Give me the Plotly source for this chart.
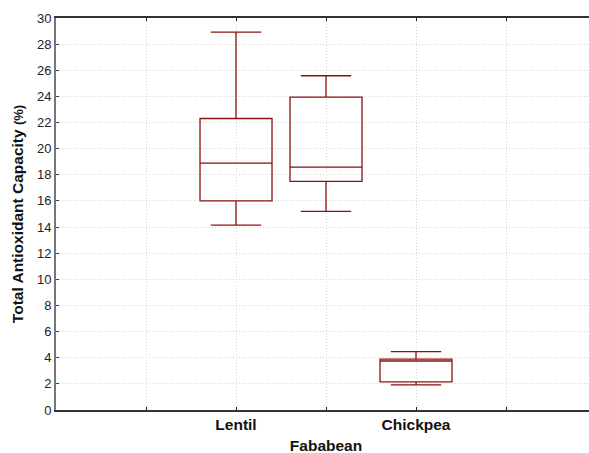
import plotly.graph_objects as go

categories = ["Lentil", "Fababean", "Chickpea"]
positions = [2, 3, 4]
lower_whisker = [14.15, 15.2, 1.92]
q1_values = [16.01, 17.49, 2.16]
median_values = [18.9, 18.59, 3.75]
q3_values = [22.31, 23.95, 3.9]
upper_whisker = [28.92, 25.58, 4.46]

tick_positions = [1, 2, 3, 4, 5]
tick_labels = ["", "Lentil", "<br>Fababean", "Chickpea", ""]
y_ticks = list(range(0, 31, 2))

box_color = "#8B1010"

fig = go.Figure()
for i, cat in enumerate(categories):
    fig.add_trace(go.Box(
        x=[positions[i]],
        q1=[q1_values[i]],
        median=[median_values[i]],
        q3=[q3_values[i]],
        lowerfence=[lower_whisker[i]],
        upperfence=[upper_whisker[i]],
        name=cat,
        width=0.8,
        whiskerwidth=0.7,
        fillcolor="rgba(255,255,255,0)",
        line=dict(color=box_color, width=1.3),
        boxpoints=False,
        hoverinfo="skip",
    ))

fig.update_layout(
    width=589, height=453,
    margin=dict(l=56, r=0, t=18, b=43),
    paper_bgcolor="white",
    plot_bgcolor="white",
    showlegend=False,
    font=dict(family="Liberation Sans, Arial", size=13, color="#222"),
)
fig.update_xaxes(
    range=[0, 5.922],
    tickmode="array",
    tickvals=tick_positions,
    ticktext=tick_labels,
    tickfont=dict(family="Liberation Sans, Arial", size=15.5, color="#111", weight="bold"),
    ticks="inside", ticklen=3, tickcolor="#222",
    showgrid=True, gridcolor="#d6d6d6", griddash="1px,2px", gridwidth=1,
    showline=True, linecolor="#333", linewidth=1.5, mirror="ticks",
    zeroline=False,
)
fig.update_yaxes(
    range=[0, 30],
    tickmode="array",
    tickvals=y_ticks,
    ticktext=[str(v) for v in y_ticks],
    tickfont=dict(family="Liberation Sans, Arial", size=13, color="#222"),
    ticks="inside", ticklen=3, tickcolor="#444",
    showgrid=True, gridcolor="#d6d6d6", griddash="1px,2px", gridwidth=1,
    showline=True, linecolor="#777", linewidth=2,
    zeroline=False,
    title=dict(
        text="<b>Total Antioxidant Capacity <span style='font-size:13px'>(%)</span></b>",
        font=dict(family="Liberation Sans, Arial", size=15.5, color="#111"),
        standoff=10,
    ),
)

fig.write_html("out.html")
